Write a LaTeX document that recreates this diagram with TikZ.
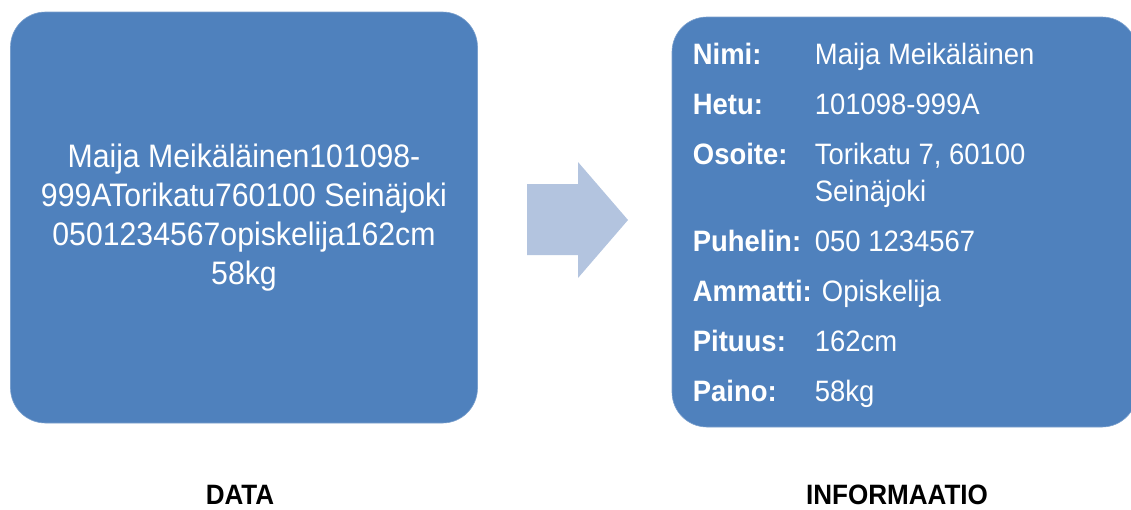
\documentclass[tikz,border=0pt]{standalone}
\usepackage{fontspec}
\setmainfont{Liberation Sans}[FakeStretch=0.93]
\definecolor{boxblue}{HTML}{4F81BD}
\definecolor{arrowblue}{HTML}{B3C4DF}

\begin{document}
\begin{tikzpicture}[x=1pt, y=-1pt,
    infobox/.style={fill=boxblue, draw=boxblue!75!white, line width=0.6pt,
                    rounded corners=35pt, inner sep=0pt},
    caption/.style={anchor=base, font=\fontsize{28}{32}\selectfont\bfseries}]
    \useasboundingbox (0,0) rectangle (1131,509);

    \node[infobox, minimum width=467pt, minimum height=411pt] (data) at (244,217.5) {};
    \node[infobox, minimum width=465pt, minimum height=410pt] (info) at (904.5,222) {};

    \node[align=center, text=white, font=\fontsize{32.5}{39}\selectfont] (datatext) at (data.center)
      {Maija Meikäläinen101098-\\999ATorikatu760100 Seinäjoki\\0501234567opiskelija162cm\\58kg};

    \node[anchor=north west, inner sep=0pt, text=white, font=\fontsize{29.5}{37}\selectfont]
          (infotext) at ([xshift=21pt, yshift=-22pt]info.north west) {
      \begin{tabular}{@{}p{122pt}@{}l@{}}
        \textbf{Nimi:}    & Maija Meikäläinen \\[13pt]
        \textbf{Hetu:}    & 101098-999A \\[13pt]
        \textbf{Osoite:}  & Torikatu 7, 60100 \\
                          & Seinäjoki \\[13pt]
        \textbf{Puhelin:} & 050 1234567 \\[13pt]
        \multicolumn{2}{@{}l@{}}{\textbf{Ammatti:} Opiskelija} \\[13pt]
        \textbf{Pituus:}  & 162cm \\[13pt]
        \textbf{Paino:}   & 58kg
      \end{tabular}
    };

    \fill[arrowblue] (527,184) -- (578,184) -- (578,162) -- (628,220)
      -- (578,278) -- (578,255) -- (527,255) -- cycle;

    \node[caption] (datalabel) at (240,504) {DATA};
    \node[caption] (infolabel) at (897,504) {INFORMAATIO};
  \end{tikzpicture}
\end{document}
